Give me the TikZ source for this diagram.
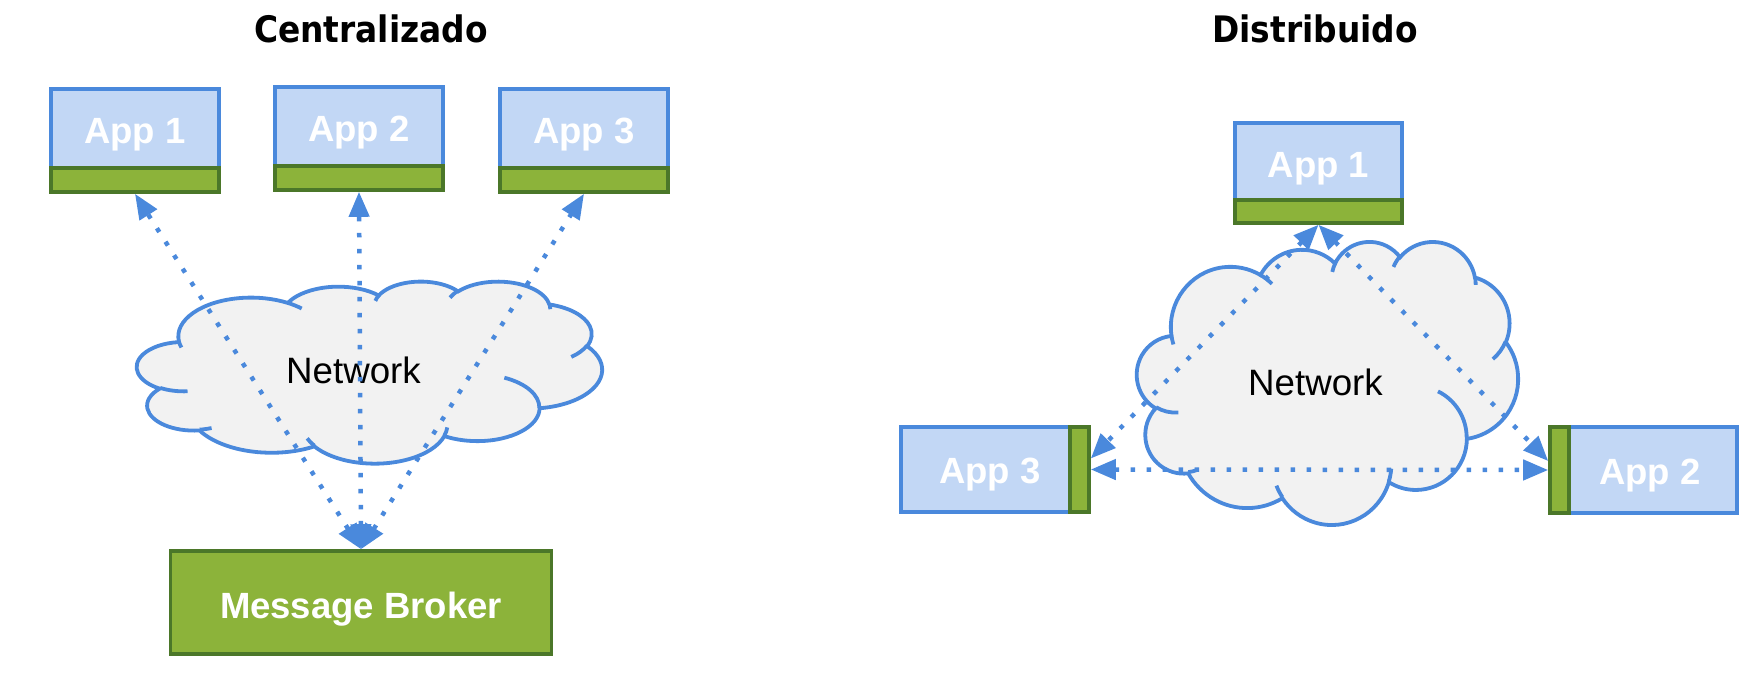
\documentclass[tikz,border=0pt]{standalone}
\usepackage{fontspec}
\setmainfont{Liberation Sans}
\newfontfamily\titlefont[FakeStretch=0.9]{DejaVu Sans}
\usetikzlibrary{arrows.meta}

\definecolor{blueline}{HTML}{4A89DC}
\definecolor{bluefill}{HTML}{C2D7F5}
\definecolor{greenfill}{HTML}{8CB33A}
\definecolor{greenline}{HTML}{4B7729}
\definecolor{cloudfill}{HTML}{F2F2F2}

% --- cloud outline (preset geometry, visual angles -> parametric angles)
\newcommand\ccpath{}
\newcommand\ccMove[2]{\xdef\ccpath{\ccpath (#1,#2)}}
\newcommand\ccArc[4]{%
  \pgfmathsetmacro\ccTs{atan2((#1)*sin(#3),(#2)*cos(#3))}%
  \pgfmathsetmacro\ccTe{atan2((#1)*sin((#3)+(#4)),(#2)*cos((#3)+(#4)))}%
  \pgfmathsetmacro\ccD{\ccTe-\ccTs}%
  \pgfmathsetmacro\ccD{\ccD-360*round((\ccD-(#4))/360)}%
  \xdef\ccpath{\ccpath arc[x radius=#1pt, y radius=#2pt, start angle=\ccTs, delta angle=\ccD]}}

\gdef\ccpath{}
\ccMove{3.9}{14.37}
\ccArc{6.753}{9.19}{-190.48748}{123.78053}
\ccArc{5.333}{7.267}{-144.10238}{89.94523}
\ccArc{4.365}{5.945}{-145.80792}{99.72302}
\ccArc{4.857}{6.595}{-130.98607}{117.24173}
\ccArc{5.333}{7.273}{-78.70888}{109.02692}
\ccArc{6.775}{9.22}{-46.26725}{130.269}
\ccArc{5.785}{7.867}{0.62502}{114.03333}
\ccArc{6.752}{9.215}{22.4516}{115.17255}
\ccArc{7.72}{10.543}{66.24263}{75.71102}
\ccArc{4.36}{5.918}{-274.94208}{146.73557}
\ccArc{4.345}{5.945}{-246.8285}{152.51885}
\global\let\cloudouter\ccpath

\gdef\ccpath{}
\ccMove{4.693}{26.177}\ccArc{4.345}{5.945}{86.742}{26.4295}
\ccMove{6.928}{34.899}\ccArc{4.36}{5.918}{73.61047}{11.44747}
\ccMove{16.478}{39.09}\ccArc{6.752}{9.215}{137.62415}{14.0811}
\ccMove{28.827}{34.751}\ccArc{6.752}{9.215}{6.45327}{15.99835}
\ccMove{34.129}{22.954}\ccArc{5.785}{7.867}{-70.29235}{70.91737}
\ccMove{41.798}{15.354}\ccArc{5.333}{7.273}{30.31803}{27.7515}
\ccMove{38.324}{5.426}\ccArc{4.857}{6.595}{-13.74433}{14.8589}
\ccMove{29.078}{3.952}\ccArc{4.857}{6.595}{-149.18145}{18.19537}
\ccMove{22.141}{4.72}\ccArc{4.365}{5.945}{-163.49427}{17.68635}
\ccMove{14.0}{5.192}\ccArc{6.753}{9.19}{-66.70695}{12.31935}
\ccMove{4.127}{15.789}\ccArc{6.753}{9.19}{157.65435}{11.85817}
\global\let\cloudinner\ccpath

\tikzset{
  appbox/.style={draw=blueline, fill=bluefill, line width=3.6pt, inner sep=0pt, rectangle},
  barbox/.style={draw=greenline, fill=greenfill, line width=3.6pt, inner sep=0pt, rectangle},
  apptext/.style={text=white, font=\fontsize{36.5}{40}\selectfont\bfseries, inner sep=0pt, anchor=base},
  nettext/.style={text=black, font=\fontsize{36.7}{40}\selectfont, inner sep=0pt, anchor=base},
  titletext/.style={text=black, font=\titlefont\bfseries\fontsize{36.5}{40}\selectfont, inner sep=0pt, anchor=base},
  cloudshape/.style={draw=blueline, fill=cloudfill, line width=3.8pt},
  cloudfold/.style={draw=blueline, line width=3.8pt},
  link/.style={draw=blueline, line width=4.5pt, dash pattern=on 4.5pt off 11.5pt,
               >={Triangle[length=25pt,width=20pt]}, <->},
}

\begin{document}
\begin{tikzpicture}[x=1pt,y=1pt]
\useasboundingbox (0,0) rectangle (1748,-698);

% ---------- titles
\node[titletext] (t1) at (371,-43) {Centralizado};
\node[titletext] (t2) at (1315,-43) {Distribuido};

% ---------- clouds
\begin{scope}[shift={(137,-281)}, xscale=465/43.2, yscale=-182/43.2]
  \path[cloudshape] \cloudouter -- cycle;
  \path[cloudfold] \cloudinner;
\end{scope}
\begin{scope}[shift={(1137,-241)}, xscale=381/43.2, yscale=-283/43.2]
  \path[cloudshape] \cloudouter -- cycle;
  \path[cloudfold] \cloudinner;
\end{scope}
\node[nettext] (net1) at (353.5,-383) {Network};
\node[nettext] (net2) at (1315.5,-395) {Network};

% ---------- left: centralised
\node[appbox, minimum width=168pt, minimum height=103pt] (lapp1) at (135,-140.5) {};
\node[barbox, minimum width=168pt, minimum height=24pt, anchor=south] (lbar1) at (lapp1.south) {};
\node[apptext] (lt1) at (135,-144) {App 1};

\node[appbox, minimum width=168pt, minimum height=103pt] (lapp2) at (359,-138.5) {};
\node[barbox, minimum width=168pt, minimum height=24pt, anchor=south] (lbar2) at (lapp2.south) {};
\node[apptext] (lt2) at (359,-142) {App 2};

\node[appbox, minimum width=168pt, minimum height=103pt] (lapp3) at (584,-140.5) {};
\node[barbox, minimum width=168pt, minimum height=24pt, anchor=south] (lbar3) at (lapp3.south) {};
\node[apptext] (lt3) at (584,-144) {App 3};

\node[barbox, minimum width=381pt, minimum height=103pt] (broker) at (361,-602.5) {};
\node[apptext] (bt) at (361,-618) {Message Broker};

\draw[link] (broker.north) -- (lbar1.south);
\draw[link] (broker.north) -- (lbar2.south);
\draw[link] (broker.north) -- (lbar3.south);

% ---------- right: distributed
\node[appbox, minimum width=167pt, minimum height=100pt] (rapp1) at (1318.5,-173) {};
\node[barbox, minimum width=167pt, minimum height=23pt, anchor=south] (rbar1) at (rapp1.south) {};
\node[apptext] (rt1) at (1318.5,-178) {App 1};

\node[appbox, minimum width=188pt, minimum height=85pt] (rapp3) at (995,-469.5) {};
\node[barbox, minimum width=19pt, minimum height=85pt, anchor=east] (rbar3) at (rapp3.east) {};
\node[apptext] (rt3) at (990,-483.5) {App 3};

\node[appbox, minimum width=187pt, minimum height=86pt] (rapp2) at (1643.5,-470) {};
\node[barbox, minimum width=19pt, minimum height=86pt, anchor=west] (rbar2) at (rapp2.west) {};
\node[apptext] (rt2) at (1650,-484) {App 2};

\draw[link] (rbar1.south) -- ([yshift=11pt]rbar3.east);
\draw[link] (rbar1.south) -- ([yshift=9pt]rbar2.west);
\draw[link] (rbar3.east) -- (rbar2.west);
\end{tikzpicture}
\end{document}
